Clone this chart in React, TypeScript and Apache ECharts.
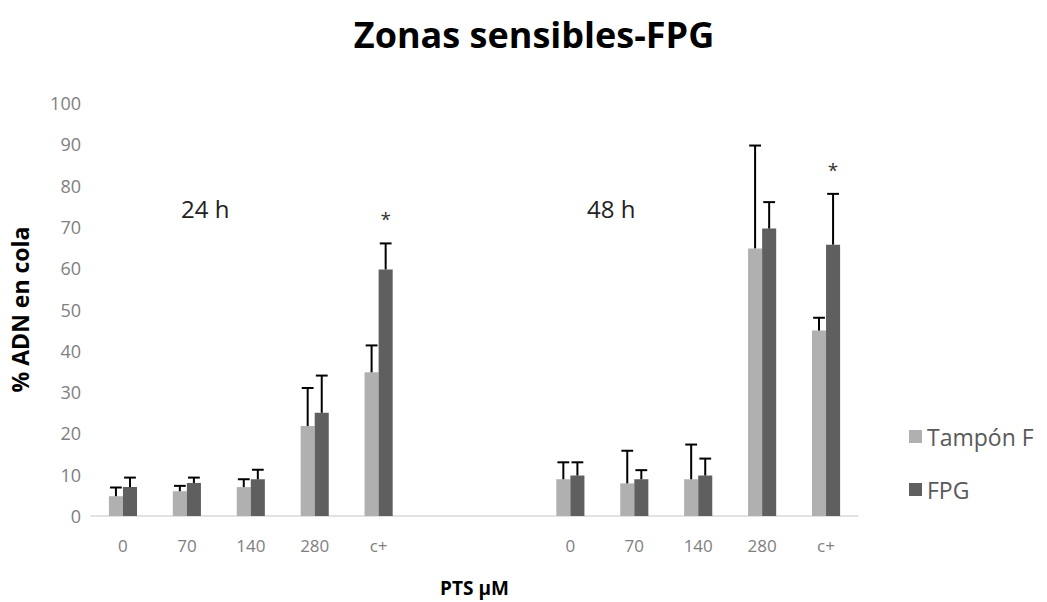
import React, { useEffect, useRef } from "react";
import * as echarts from "echarts";

const categories = ["0", "70", "140", "280", "c+", "", "", "0", "70", "140", "280", "c+"];
const tamponValues = [4.8, 6.0, 7.0, 21.8, 34.8, null, null, 8.9, 7.9, 8.9, 64.8, 44.9];
const tamponErrTop = [6.9, 7.3, 8.9, 31.0, 41.3, null, null, 13.0, 15.8, 17.3, 89.7, 48.0];
const fpgValues = [7.0, 8.0, 8.9, 25.0, 59.7, null, null, 9.8, 8.9, 9.8, 69.6, 65.7];
const fpgErrTop = [9.3, 9.3, 11.2, 34.0, 66.0, null, null, 13.0, 11.1, 13.9, 76.0, 78.0];
const fpgSignificant = [false, false, false, false, true, false, false, false, false, false, false, true];
const yTicks = [0, 100, 10];

const FONT = "'Open Sans', 'Noto Sans', sans-serif";
const TAMPON_COLOR = "#b0b0b0";
const FPG_COLOR = "#5f5f5f";

function errorSeries(name: string, values: any[], tops: any[], side: number, sig: boolean[]) {
  const data = values.map((v, i) => [i, v, tops[i], sig[i] ? 1 : 0]);
  return {
    name,
    type: "custom",
    z: 5,
    tooltip: { show: false },
    legendHoverLink: false,
    data,
    renderItem: (params: any, api: any) => {
      const v = api.value(1);
      const t = api.value(2);
      if (v == null || t == null || isNaN(v) || isNaN(t)) return null;
      const band = api.size([1, 0])[0];
      const barW = band * 0.22;
      const base = api.coord([api.value(0), v]);
      const top = api.coord([api.value(0), t]);
      const x = base[0] + side * barW / 2;
      const cap = barW * 0.42;
      const children: any[] = [
        { type: "line", shape: { x1: x, y1: base[1], x2: x, y2: top[1] }, style: { stroke: "#000", lineWidth: 2 } },
        { type: "line", shape: { x1: x - cap, y1: top[1], x2: x + cap, y2: top[1] }, style: { stroke: "#000", lineWidth: 2 } },
      ];
      if (api.value(3) === 1) {
        children.push({
          type: "text",
          style: { text: "*", x, y: top[1] - 24, fontSize: 19, fontFamily: FONT, fill: "#333", align: "center", verticalAlign: "middle" },
        });
      }
      return { type: "group", children };
    },
  };
}

export default function App() {
  const ref = useRef<HTMLDivElement>(null);
  useEffect(() => {
    const chart = echarts.init(ref.current!, null, { renderer: "svg" });
    chart.setOption({
      animation: false,
      backgroundColor: "#fff",
      title: {
        text: "Zonas sensibles-FPG",
        left: 529,
        top: 11,
        textAlign: "center",
        textStyle: { fontFamily: FONT, fontSize: 36, fontWeight: "bold", color: "#000" },
      },
      legend: {
        orient: "vertical",
        left: 904,
        top: 420,
        itemGap: 30,
        itemWidth: 13,
        itemHeight: 13,
        icon: "rect",
        data: ["Tampón F", "FPG"],
        textStyle: { fontFamily: FONT, fontSize: 23, color: "#595959", padding: [0, 0, 0, 0] },
      },
      grid: { left: 90, right: 189, top: 103, bottom: 85, containLabel: false },
      xAxis: {
        type: "category",
        data: categories,
        name: "PTS µM",
        nameLocation: "middle",
        nameGap: 62,
        nameTextStyle: { fontFamily: FONT, fontSize: 19, fontWeight: "bold", color: "#000" },
        axisLine: { lineStyle: { color: "#d9d9d9", width: 1.5 } },
        axisTick: { show: false },
        axisLabel: { fontFamily: FONT, fontSize: 17, color: "#808080", margin: 21 },
      },
      yAxis: {
        type: "value",
        min: yTicks[0],
        max: yTicks[1],
        interval: yTicks[2],
        name: "% ADN en cola",
        nameLocation: "middle",
        nameGap: 60,
        nameTextStyle: { fontFamily: FONT, fontSize: 23, fontWeight: "bold", color: "#000" },
        axisLine: { show: false },
        axisTick: { show: false },
        splitLine: { show: false },
        axisLabel: { fontFamily: FONT, fontSize: 18, color: "#808080", margin: 10 },
      },
      graphic: [
        { type: "text", left: 181, top: 196, style: { text: "24 h", fontFamily: FONT, fontSize: 24, fill: "#222" } },
        { type: "text", left: 587, top: 196, style: { text: "48 h", fontFamily: FONT, fontSize: 24, fill: "#222" } },
      ],
      series: [
        {
          name: "Tampón F",
          type: "bar",
          data: tamponValues,
          barGap: "0%",
          barCategoryGap: "56%",
          itemStyle: { color: TAMPON_COLOR },
        },
        {
          name: "FPG",
          type: "bar",
          data: fpgValues,
          barGap: "0%",
          barCategoryGap: "56%",
          itemStyle: { color: FPG_COLOR },
        },
        errorSeries("errT", tamponValues, tamponErrTop, -1, tamponValues.map(() => false)),
        errorSeries("errF", fpgValues, fpgErrTop, 1, fpgSignificant),
      ],
    });
    return () => chart.dispose();
  }, []);
  return <div ref={ref} style={{ position: "fixed", left: 0, top: 0, width: 1047, height: 602 }} />;
}
